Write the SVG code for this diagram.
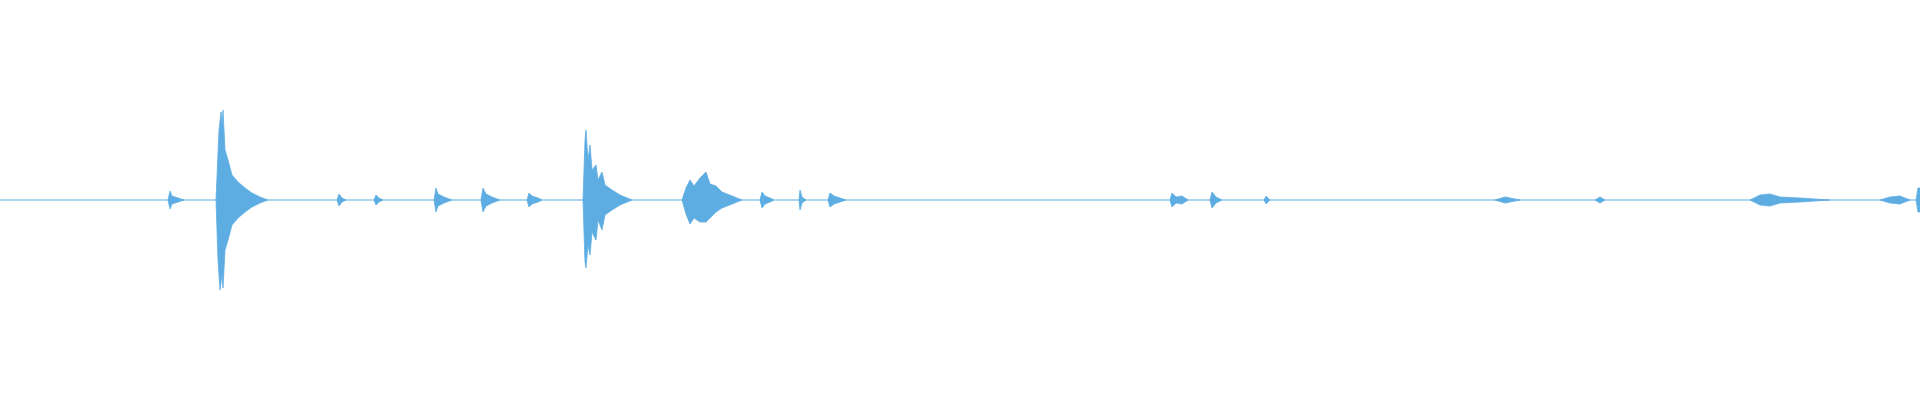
<svg xmlns="http://www.w3.org/2000/svg" width="1920" height="400" viewBox="0 0 1920 400">
<style>.w{fill:#5dade2;stroke:#5dade2;stroke-width:0.8}.b{stroke:#5dade2;stroke-width:1.2;fill:none}</style>
<rect width="1920" height="400" fill="#fff"/>
<line class="b" x1="0" y1="200" x2="1920" y2="200"/>
<g id="waveform">
<path class="w" d="M216 200 L219 130 L221 112 L222 125 L223 110 L225 150 L228 160 L232 175 L238 182 L245 188 L252 193 L260 197 L268 200 L260 203 L252 207 L245 212 L238 218 L232 225 L228 240 L225 250 L223 288 L222 275 L220 290 L218 260 Z"/>
<path class="w" d="M583 200 L585 140 L586 130 L588 160 L590 145 L592 170 L596 165 L598 180 L602 172 L605 185 L612 190 L620 195 L632 200 L620 205 L612 210 L605 215 L602 230 L598 220 L596 240 L592 232 L590 255 L588 245 L586 268 L585 262 Z"/>
<path class="w" d="M682 200 L686 188 L690 180 L694 186 L700 178 L706 172 L710 184 L716 186 L722 192 L732 196 L742 200 L732 204 L722 208 L716 212 L710 218 L706 222 L700 222 L694 218 L690 224 L686 214 Z"/>
<path class="w" d="M168 200 L170 191 L172 196 L178 198 L184 200 L178 202 L172 204 L170 209 Z"/>
<path class="w" d="M434 200 L436 188 L438 194 L444 197 L452 200 L444 203 L438 206 L436 212 Z"/>
<path class="w" d="M481 200 L483 188 L486 194 L492 197 L500 200 L492 203 L486 206 L483 212 Z"/>
<path class="w" d="M527 200 L529 193 L532 196 L538 198 L542 200 L538 202 L532 204 L529 207 Z"/>
<path class="w" d="M760 200 L762 192 L765 196 L770 198 L774 200 L770 202 L765 204 L762 208 Z"/>
<path class="w" d="M799 200 L800 190 L802 197 L806 200 L802 203 L800 210 Z"/>
<path class="w" d="M828 200 L830 193 L834 196 L840 198 L846 200 L840 202 L834 204 L830 207 Z"/>
<path class="w" d="M337 200 L339 194 L342 198 L346 200 L342 202 L339 206 Z"/>
<path class="w" d="M374 200 L376 195 L379 198 L383 200 L379 202 L376 205 Z"/>
<path class="w" d="M1170 200 L1172 193 L1176 197 L1182 196 L1188 200 L1182 204 L1176 203 L1172 207 Z"/>
<path class="w" d="M1210 200 L1212 192 L1216 197 L1222 200 L1216 203 L1212 208 Z"/>
<path class="w" d="M1264 200 L1266 196 L1270 200 L1266 204 Z"/>
<path class="w" d="M1495 200 L1505 197 L1520 200 L1505 203 Z"/>
<path class="w" d="M1595 200 L1600 197 L1605 200 L1600 203 Z"/>
<path class="w" d="M1750 200 L1760 195 L1770 194 L1780 197 L1800 198 L1830 200 L1800 202 L1780 203 L1770 206 L1760 205 Z"/>
<path class="w" d="M1880 200 L1890 197 L1900 196 L1910 200 L1900 204 L1890 203 Z"/>
<path class="w" d="M1916 200 L1918 188 L1920 188 L1920 212 L1918 212 Z"/>
</g>
</svg>
